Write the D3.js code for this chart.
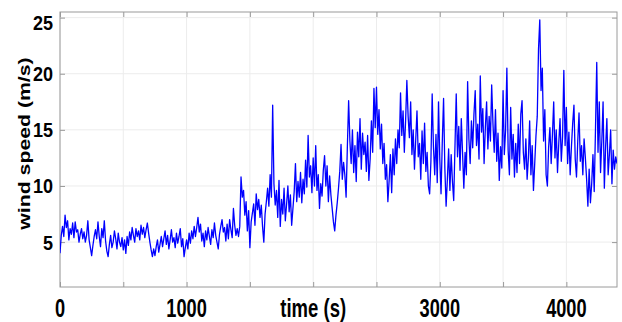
<!DOCTYPE html>
<html>
<head>
<meta charset="utf-8">
<script src="https://cdn.jsdelivr.net/npm/d3@7"></script>
<style>
  body { margin: 0; background: #fff; }
  svg { display: block; }
  text { font-family: 'Liberation Sans', Arial, sans-serif; font-weight: bold; fill: #000; }
</style>
</head>
<body>
<svg id="chart"></svg>
<script>
const sampleStep = 10
const speeds = [
  4.0, 5.6, 6.4, 5.5, 7.4, 6.3, 6.9, 5.2, 6.2, 5.7,
  6.7, 5.4, 6.8, 5.9, 6.1, 5.0, 5.7, 6.2, 5.3, 5.9,
  5.0, 5.6, 6.9, 5.2, 4.5, 3.8, 4.7, 5.5, 6.1, 5.3,
  6.8, 5.5, 4.6, 6.2, 5.4, 6.9, 5.1, 4.2, 3.7, 4.8,
  5.6, 4.5, 5.0, 6.0, 5.3, 4.4, 5.8, 5.0, 4.6, 5.4,
  4.3, 5.2, 4.0, 5.5, 4.7, 5.9, 5.2, 6.3, 5.6, 5.0,
  6.2, 5.5, 6.0, 5.2, 6.5, 5.7, 6.3, 5.4, 6.1, 6.7,
  5.8, 5.0, 4.3, 3.7, 4.4, 3.8, 4.6, 5.2, 4.1, 4.8,
  5.5, 4.6, 5.3, 6.0, 4.8, 5.6, 4.4, 5.2, 6.1, 5.0,
  5.4, 4.5, 5.8, 4.9, 5.5, 6.2, 4.6, 5.3, 3.7, 4.5,
  5.2, 4.4, 5.8, 4.9, 6.0, 5.3, 6.4, 5.5, 6.3, 7.2,
  5.9, 6.6, 5.1, 5.8, 4.6, 6.0, 5.2, 6.3, 5.5, 4.8,
  6.1, 5.4, 6.7, 5.6, 5.0, 4.4, 5.7, 6.4, 7.0, 5.9,
  6.3, 5.1, 6.6, 5.3, 7.0, 6.1, 5.4, 8.0, 6.5, 5.6,
  6.2, 5.5, 6.4, 10.8, 9.0, 9.6, 7.4, 8.6, 6.0, 7.8,
  4.5, 6.8, 7.6, 8.4, 6.5, 9.3, 7.9, 8.8, 7.2, 8.3,
  6.4, 5.0, 7.5, 8.6, 9.8, 8.2, 11.0, 9.0, 17.2, 10.2,
  8.3, 9.6, 7.2, 10.5, 6.4, 8.8, 7.5, 9.8, 6.9, 8.4,
  10.0, 7.7, 9.2, 6.5, 8.0, 9.5, 12.0, 8.6, 10.4, 9.0,
  11.2, 8.5, 10.6, 9.3, 12.3, 9.9, 14.5, 10.8, 11.8, 9.4,
  12.5, 10.0, 13.6, 9.6, 11.0, 8.0, 10.2, 9.1, 11.4, 12.7,
  10.0, 11.8, 8.6, 10.9, 9.2, 8.0, 6.8, 6.0, 7.4, 8.5,
  9.8, 11.3, 13.7, 10.6, 12.1, 11.0, 9.0, 13.5, 17.6, 14.0,
  12.0, 15.0, 11.2, 13.6, 10.4, 14.8, 12.6, 16.0, 11.5, 14.7,
  12.8, 13.9, 11.3, 14.5, 10.5, 12.4, 15.8, 13.0, 18.7, 15.2,
  18.8, 14.6, 16.8, 13.3, 15.5, 12.0, 13.8, 10.6, 11.9, 8.6,
  10.5, 12.8, 9.4, 13.3, 11.0, 14.2, 12.0, 15.0, 13.4, 18.3,
  14.5, 16.7, 13.0, 15.8, 19.4, 16.2, 14.3, 17.5, 12.8, 15.0,
  11.5, 14.1, 16.7, 12.6, 13.8, 10.6, 14.9, 12.0, 15.6, 11.3,
  13.0, 10.0, 9.3, 12.2, 18.2, 13.5, 11.0, 14.6, 10.3, 17.5,
  12.4, 9.3, 14.0, 17.8, 11.6, 8.2, 10.6, 13.3, 9.6, 12.8,
  10.4, 8.7, 13.5, 18.2, 12.6, 15.3, 11.4, 16.0, 12.9, 9.8,
  13.0, 11.0, 19.3, 14.2, 12.0, 15.8, 13.4, 16.4, 18.5, 13.6,
  15.5, 12.4, 19.8, 14.8, 16.9, 12.0, 15.2, 17.5, 13.3, 16.2,
  14.0, 19.0, 15.6, 13.0, 16.8, 12.2, 14.7, 10.5, 13.5, 11.6,
  18.5, 12.8, 15.0, 20.5, 13.2, 11.0, 17.0, 12.4, 14.6, 10.8,
  13.8, 11.2, 15.5, 12.0, 16.4, 17.6, 13.0, 11.5, 14.2, 10.6,
  12.5, 15.8, 11.0, 13.6, 9.6, 12.0, 14.5, 16.2, 22.2, 24.8,
  18.5, 20.5, 14.0, 16.8, 11.0, 10.0, 13.5, 15.2, 12.0, 14.6,
  17.5, 12.5, 15.0, 11.2, 13.8, 16.0, 12.2, 14.4, 20.3, 13.6,
  17.0, 12.0, 14.8, 11.0, 13.5, 15.6, 17.2, 12.4, 10.8, 14.0,
  16.5, 12.2, 13.6, 11.0, 14.2, 12.5, 10.6, 8.2, 11.5, 8.5,
  10.2, 12.8, 9.5, 15.0, 21.0, 13.0, 17.5, 11.2, 14.0, 17.5,
  9.8, 13.5, 16.0, 11.0, 12.8, 15.0, 10.2, 13.2, 11.5, 12.6,
  12.0
]

const xDomain = [0, 4400]
const yDomain = [1, 25.5]
const xGrid = [0, 500, 1000, 1500, 2000, 2500, 3000, 3500, 4000]
const yGrid = [5, 10, 15, 20, 25]
const xLabels = ['0', '1000', 'time (s)', '3000', '4000']
const xLabelAt = [0, 1000, 2000, 3000, 4000]
const yTitle = 'wind speed (m/s)'

const width = 622
const height = 322
const margin = { top: 12, right: 5, bottom: 35, left: 60 }
const _w = width - margin.left - margin.right
const _h = height - margin.top - margin.bottom

const svg = d3.select('#chart').attr('width', width).attr('height', height)

const x = d3.scaleLinear().domain(xDomain).range([0, _w])
const y = d3.scaleLinear().domain(yDomain).range([_h, 0])

const plot = svg.append('g').attr('transform', `translate(${margin.left},${margin.top})`)

plot.append('clipPath').attr('id', 'clip')
  .append('rect').attr('width', _w).attr('height', _h)

// grid
plot.append('g')
  .selectAll('line')
  .data(xGrid)
  .join('line')
  .attr('x1', (d) => x(d)).attr('x2', (d) => x(d))
  .attr('y1', 0).attr('y2', _h)
  .attr('stroke', '#ececec')

plot.append('g')
  .selectAll('line')
  .data(yGrid)
  .join('line')
  .attr('x1', 0).attr('x2', _w)
  .attr('y1', (d) => y(d)).attr('y2', (d) => y(d))
  .attr('stroke', '#ececec')

// box with inward ticks on all four sides
const tick = 5
const axisStyle = (g) => {
  g.select('.domain').remove()
  g.selectAll('text').remove()
  g.selectAll('line').attr('stroke', '#9a9a9a')
}
plot.append('g').attr('transform', `translate(0,${_h})`)
  .call(d3.axisBottom(x).tickValues(xGrid).tickSize(-tick)).call(axisStyle)
plot.append('g')
  .call(d3.axisTop(x).tickValues(xGrid).tickSize(-tick)).call(axisStyle)
plot.append('g')
  .call(d3.axisLeft(y).tickValues(yGrid).tickSize(-tick)).call(axisStyle)
plot.append('g').attr('transform', `translate(${_w},0)`)
  .call(d3.axisRight(y).tickValues(yGrid).tickSize(-tick)).call(axisStyle)

plot.append('rect')
  .attr('width', _w).attr('height', _h)
  .attr('fill', 'none').attr('stroke', '#9a9a9a')

// series
const line = d3.line()
  .x((d, i) => x(i * sampleStep))
  .y((d) => y(d))

plot.append('path')
  .datum(speeds)
  .attr('clip-path', 'url(#clip)')
  .attr('fill', 'none')
  .attr('stroke', '#0000ff')
  .attr('stroke-width', 1.3)
  .attr('stroke-linejoin', 'round')
  .attr('d', line)

// tick labels, stretched vertically like the source
svg.append('g')
  .selectAll('text')
  .data(yGrid)
  .join('text')
  .attr('text-anchor', 'end')
  .attr('font-size', 18)
  .attr('transform', (d) => `translate(${margin.left - 7},${Math.max(margin.top + y(d), 22) + 7.5}) scale(1,1.16)`)
  .text((d) => d)

svg.append('g')
  .selectAll('text')
  .data(xLabels)
  .join('text')
  .attr('text-anchor', 'middle')
  .attr('font-size', (d, i) => (i === 2 ? 18.5 : 18.2))
  .attr('transform', (d, i) => `translate(${margin.left + x(xLabelAt[i])},317) scale(1,1.4)`)
  .text((d) => d)

svg.append('text')
  .attr('text-anchor', 'middle')
  .attr('font-size', 17)
  .attr('transform', 'translate(29.5,143.5) rotate(-90) scale(1.25,1)')
  .text(yTitle)
</script>
</body>
</html>
